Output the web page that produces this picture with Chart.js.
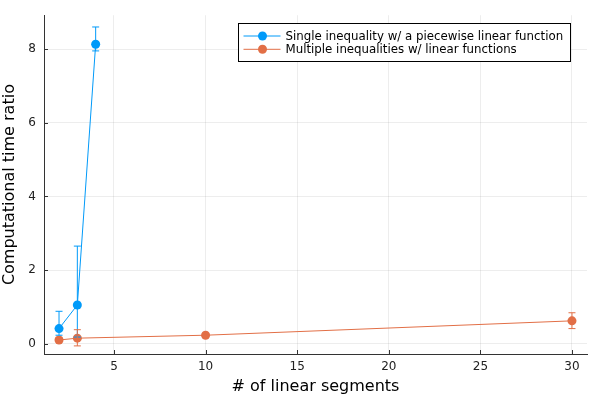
<!DOCTYPE html>
<html>
<head>
<meta charset="utf-8">
<script src="https://cdn.jsdelivr.net/npm/chart.js@4"></script>
<style>
  html, body { margin: 0; padding: 0; background: #fff; }
  #wrap { width: 600px; height: 400px; position: relative; }
</style>
</head>
<body>
<div id="wrap"><canvas id="chart"></canvas></div>
<script>
// Segment counts and time ratios
const singleX = [2, 3, 4];
const singleY = [0.41, 1.05, 8.13];
const singleLow = [0.23, 0.18, 7.95];
const singleHigh = [0.88, 2.65, 8.6];

const multiX = [2, 3, 10, 30];
const multiY = [0.10, 0.15, 0.23, 0.62];
const multiLow = [0.05, -0.06, 0.19, 0.41];
const multiHigh = [0.16, 0.38, 0.27, 0.84];

const xTicks = [5, 10, 15, 20, 25, 30];
const yTicks = [0, 2, 4, 6, 8];

const BLUE = '#009af9';
const ORANGE = '#e26f46';
const FONT = 'DejaVu Sans';

const seriesLabels = [
  'Single inequality w/ a piecewise linear function',
  'Multiple inequalities w/ linear functions'
];

function toPoints(xs, ys) {
  return xs.map((x, i) => ({ x, y: ys[i] }));
}

// draws min/max whiskers with small caps in the series colour
const errorBars = {
  id: 'errorBars',
  afterDatasetsDraw(chart) {
    const { ctx, scales: { x, y } } = chart;
    chart.data.datasets.forEach(ds => {
      ctx.save();
      ctx.strokeStyle = ds.borderColor;
      ctx.lineWidth = 1;
      ds.data.forEach((p, i) => {
        const px = x.getPixelForValue(p.x);
        const top = y.getPixelForValue(ds.high[i]);
        const bot = y.getPixelForValue(ds.low[i]);
        ctx.beginPath();
        ctx.moveTo(px, top); ctx.lineTo(px, bot);
        ctx.moveTo(px - 3.5, top); ctx.lineTo(px + 3.5, top);
        ctx.moveTo(px - 3.5, bot); ctx.lineTo(px + 3.5, bot);
        ctx.stroke();
      });
      ctx.restore();
    });
  }
};

// inner tick marks on the axes, plus the boxed legend
const decorations = {
  id: 'decorations',
  afterDraw(chart) {
    const { ctx, chartArea: a, scales: { x, y } } = chart;
    ctx.save();
    ctx.strokeStyle = '#333';
    ctx.lineWidth = 1;
    ctx.beginPath();
    xTicks.forEach(v => {
      const px = Math.round(x.getPixelForValue(v)) + 0.5;
      ctx.moveTo(px, a.bottom); ctx.lineTo(px, a.bottom - 4);
    });
    yTicks.forEach(v => {
      const py = Math.round(y.getPixelForValue(v)) + 0.5;
      ctx.moveTo(a.left, py); ctx.lineTo(a.left + 4, py);
    });
    ctx.stroke();

    // legend
    const lx = 238.5, ly = 23.5, lw = 332, lh = 38;
    ctx.fillStyle = '#fff';
    ctx.fillRect(lx, ly, lw, lh);
    ctx.strokeStyle = '#000';
    ctx.strokeRect(lx, ly, lw, lh);
    ctx.font = '11.8px "' + FONT + '"';
    ctx.textBaseline = 'middle';
    [BLUE, ORANGE].forEach((c, i) => {
      const yy = ly + 12.5 + i * 13.3;
      ctx.strokeStyle = c;
      ctx.beginPath();
      ctx.moveTo(lx + 5, yy); ctx.lineTo(lx + 42, yy);
      ctx.stroke();
      ctx.fillStyle = c;
      ctx.beginPath();
      ctx.arc(lx + 24, yy, 4.5, 0, Math.PI * 2);
      ctx.fill();
      ctx.fillStyle = '#000';
      ctx.fillText(seriesLabels[i], lx + 47, yy + 0.5);
    });
    ctx.restore();
  }
};

new Chart(document.getElementById('chart'), {
  type: 'scatter',
  data: {
    datasets: [
      {
        label: seriesLabels[0],
        data: toPoints(singleX, singleY),
        low: singleLow,
        high: singleHigh,
        showLine: true,
        borderColor: BLUE,
        backgroundColor: BLUE,
        borderWidth: 1,
        pointRadius: 4.5,
        pointBorderWidth: 0
      },
      {
        label: seriesLabels[1],
        data: toPoints(multiX, multiY),
        low: multiLow,
        high: multiHigh,
        showLine: true,
        borderColor: ORANGE,
        backgroundColor: ORANGE,
        borderWidth: 1,
        pointRadius: 4.5,
        pointBorderWidth: 0
      }
    ]
  },
  options: {
    responsive: true,
    maintainAspectRatio: false,
    animation: false,
    layout: { padding: { top: 10, right: 13, left: 0, bottom: 0 } },
    plugins: {
      legend: { display: false },
      tooltip: { enabled: false }
    },
    scales: {
      x: {
        type: 'linear',
        min: 1.18,
        max: 30.82,
        afterBuildTicks: s => { s.ticks = xTicks.map(v => ({ value: v })); },
        afterFit: s => { s.height = 46; },
        grid: { color: 'rgba(0,0,0,0.07)', drawTicks: false },
        border: { color: '#333', width: 1 },
        ticks: { color: '#222', font: { family: FONT, size: 12 }, padding: 6 },
        title: {
          display: true,
          text: '# of linear segments',
          color: '#000',
          font: { family: FONT, size: 16 },
          padding: { top: 2, bottom: 4 }
        }
      },
      y: {
        min: -0.28,
        max: 8.92,
        afterBuildTicks: s => { s.ticks = yTicks.map(v => ({ value: v })); },
        afterFit: s => { s.width = 44; },
        grid: { color: 'rgba(0,0,0,0.07)', drawTicks: false },
        border: { color: '#333', width: 1 },
        ticks: { color: '#222', font: { family: FONT, size: 12 }, padding: 8 },
        title: {
          display: true,
          text: 'Computational time ratio',
          color: '#000',
          font: { family: FONT, size: 16 },
          padding: { top: 0, bottom: 2 }
        }
      }
    }
  },
  plugins: [errorBars, decorations]
});
</script>
</body>
</html>
